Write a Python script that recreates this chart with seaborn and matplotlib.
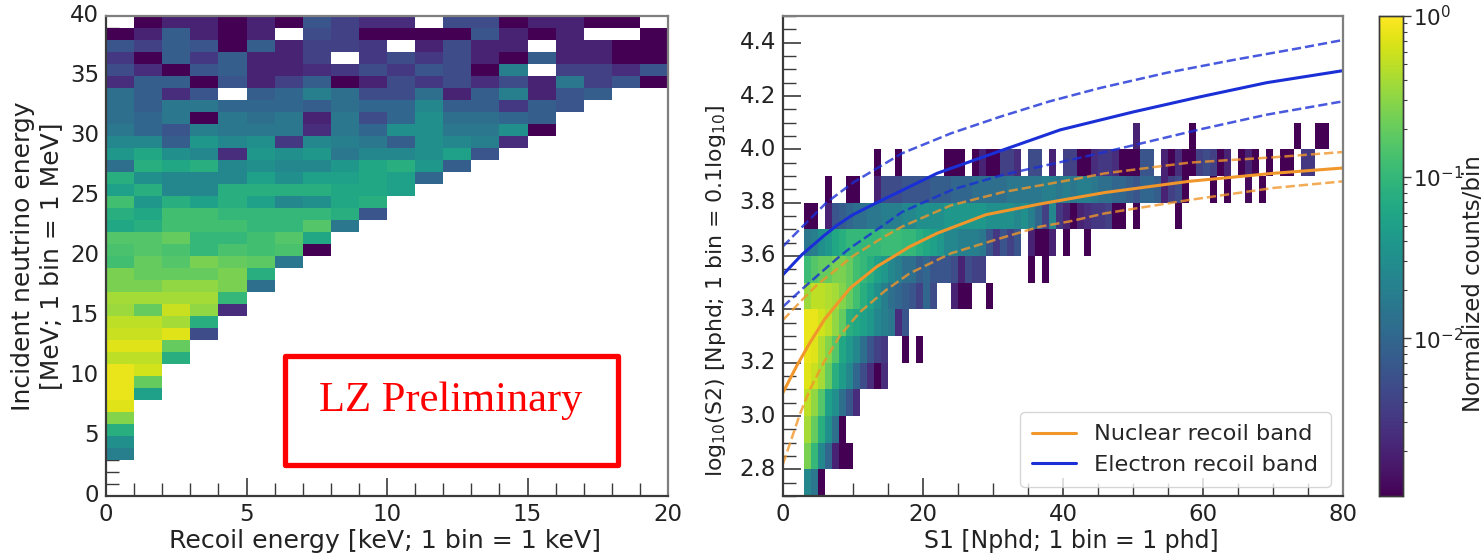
import numpy as np
import pandas as pd
import seaborn as sns
import matplotlib.pyplot as plt
from matplotlib.colors import LogNorm
from matplotlib.patches import Rectangle

NA = float('nan')
FIG_W, FIG_H = 1484, 555

# left panel: log10(normalized counts), top bin (39-40 MeV) first, each row starts at 0 keV
recoil_rows = [
    [NA, -3, -2.7, -2.7, -3, -2.7, -3, -2.2, -2.4, -2.6, -2.6, NA, -2.3, -2.3, -3, -2.7, -2.7, -3, -3, NA],
    [-3, -2.7, -2.1, -2.7, -3, -2.7, NA, -2.3, -2.4, -3, -3, -3, -3, -2.2, -2.7, -3, -2.7, NA, NA, -3],
    [-2.2, -2.4, -2.1, -2.2, -3, -2.1, -2.7, -2.4, -2.4, -2.5, NA, -2.7, -2.3, -2.7, -2.7, NA, -2.7, -2.7, -3, -3],
    [-2.5, -3, -2.1, -2.5, -2.1, -2.7, -2.7, -2.4, NA, -2.5, -2.3, -2.5, -2.3, -2.7, -3, -2.1, -2.7, -2.7, -3, -3],
    [-2.3, -2.6, -3, -2.2, -2.1, -2.7, -2.7, -2.6, -2.5, -2.3, -2.5, -2.2, -2.3, -3, -1.7, NA, -2.4, -2.4, -2.6, -2.2],
    [-2.6, -2.1, -2.1, -3, -2.2, -2.7, -2.4, -2.1, -3, -2.7, -2.3, -2.5, -2.3, -2.6, -2.3, -2.7, -1.8, -2.4, -2.2, -3],
    [-1.9, -2.1, -2.6, -2.2, NA, -2.1, -2.0, -1.7, -1.9, -2.3, -2.3, -1.9, -2.7, -2.1, -1.7, -2.7, -2.2, -2.1],
    [-1.9, -2.1, -1.8, -1.8, -2.0, -2.0, -2.0, -2.1, -1.9, -2.0, -2.0, -1.6, -2.1, -2.1, -2.5, -2.1, -2.2],
    [-1.9, -2.0, -1.8, -3, -1.8, -1.9, -1.8, -2.7, -1.8, -2.3, -2.0, -1.5, -1.9, -1.9, -2.0, -2.1],
    [-1.8, -2.0, -2.2, -1.7, -1.8, -1.8, -1.8, -2.6, -1.8, -2.0, -1.5, -1.5, -1.8, -1.8, -1.5, -3],
    [-1.6, -1.6, -2.1, -1.4, -1.6, -1.5, -2.5, -1.6, -1.7, -1.8, -2.1, -1.5, -1.6, -1.7, -2.6],
    [-1.4, -1.2, -1.5, -1.6, -2.6, -1.4, -1.5, -1.4, -1.8, -1.6, -1.6, -1.5, -1.3, -2.2],
    [-1.9, -1.1, -1.2, -1.1, -1.6, -1.5, -1.6, -1.6, -1.4, -1.2, -1.1, -1.4, -2.1],
    [-1.1, -1.5, -1.6, -1.6, -1.6, -1.3, -1.5, -1.3, -1.3, -1.2, -1.3, -2.0],
    [-1.3, -1.1, -1.6, -1.6, -1.1, -1.1, -1.1, -1.1, -1.2, -1.2, -1.3],
    [-0.9, -1.4, -1.1, -1.3, -1.1, -1.3, -1.6, -1.5, -1.2, -1.1],
    [-1.1, -1.2, -0.9, -0.9, -1.0, -1.0, -1.0, -1.0, -1.1, -2.2],
    [-1.2, -1.1, -0.9, -0.9, -0.9, -1.0, -1.0, -0.8, -1.8],
    [-0.8, -0.8, -0.7, -1.0, -1.0, -0.9, -0.8, -1.2],
    [-0.85, -0.8, -0.85, -1.0, -0.85, -0.9, -0.85, -3],
    [-0.9, -0.7, -0.8, -0.6, -0.7, -0.75, -1.8],
    [-0.6, -0.7, -0.7, -0.7, -0.6, -1.1],
    [-0.6, -0.6, -0.5, -0.5, -0.6, -1.9],
    [-0.4, -0.4, -0.4, -0.4, -1.0],
    [-0.45, -0.7, -0.25, -0.5, -2.6],
    [-0.3, -0.3, -0.4, -1.1],
    [-0.25, -0.25, -0.15, -2.3],
    [-0.15, -0.15, -0.7],
    [-0.3, -0.3, -1.1],
    [-0.1, -0.2],
    [-0.1, -0.7],
    [-0.1, -1.3],
    [-0.15],
    [-0.55],
    [-1.1],
    [-1.5],
    [-1.7],
    [],
    [],
    [],
]

# right panel: (first S1 bin, log10 counts), one list per log10(S2) bin, lowest bin first
s2_27 = [(3, [-1.6, -1.8, -3])]
s2_28 = [(3, [-0.6, -1.0, -1.6, -2.0, -2.7, -3, -3])]
s2_29 = [(3, [-0.4, -0.7, -1.1, -1.5, -1.9, -3])]
s2_30 = [(3, [-0.3, -0.5, -0.8, -1.3, -1.5, -1.9, -2.2, -2.6])]
s2_31 = [(3, [-0.15, -0.25, -0.4, -0.7, -1.1, -1.35, -1.6, -2.0, -2.3, -2.6, -3, -2.6])]
s2_32 = [(3, [-0.1, -0.15, -0.35, -0.55, -0.8, -1.2, -1.4, -1.6, -1.9, -2.2, -2.4, -2.5]), (17, [-3]), (19, [-3])]
s2_33 = [(3, [-0.1, -0.1, -0.2, -0.3, -0.5, -0.7, -1.1, -1.2, -1.3, -1.4, -1.6, -1.7, -1.8, -2.6, -2.2])]
s2_34 = [(3, [-0.45, -0.3, -0.3, -0.35, -0.4, -0.55, -0.7, -0.9, -1.1, -1.3, -1.5, -1.7, -1.9, -2.0, -2.1, -2.2, -2.4, -2.0, -2.3]),
         (24, [-2.7, -3, -3]), (29, [-3])]
s2_35 = [(3, [-0.95, -0.8, -0.7, -0.7, -0.6, -0.6, -0.7, -0.9, -1.0, -1.1, -1.3, -1.4, -1.6, -1.7, -1.9, -1.9, -2.1, -2.0, -2.2, -2.2, -2.2, -2.3, -2.7, -2.3, -2.4, -2.4]),
         (35, [-3]), (37, [-3])]
s2_36 = [(3, [-1.8, -1.7, -1.5, -1.4, -1.2, -1.1, -1.0, -1.0, -1.0, -1.0, -1.0, -0.95, -0.95, -0.95, -1.0, -1.0, -1.1, -1.2, -1.3, -1.4, -1.6, -1.6, -1.7, -1.7, -1.7, -1.8, -2.2, -2.5, -2.2, -2.4, -2.2]),
         (35, [-2.7, -3, -3, -2.7]), (40, [-3]), (43, [-3])]
s2_37 = [(3, [-3, -3]), (6, [-2.7, -2.2, -2.1, -2.0, -1.9, -1.9, -1.8, -1.8, -1.7, -1.7, -1.7, -1.6, -1.6, -1.5, -1.5, -1.5, -1.5, -1.4, -1.4, -1.4, -1.4, -1.4, -1.4, -1.5, -1.5, -1.5, -1.5, -1.6, -1.5, -1.7, -2.0, -2.4, -1.6, -2.5, -2.7, -3, -2.7, -2.6, -2.5, -2.5, -2.4, -3, -3]),
         (50, [-3]), (56, [-3])]
s2_38 = [(6, [-3]), (9, [-3, -3]), (13, [-2.7, -2.3, -2.3, -2.3, -2.2, -2.2, -2.2, -2.2, -2.1, -2.1, -2.1, -2.0, -2.0, -2.0, -1.9, -1.9, -1.9, -1.9, -1.9, -1.8, -1.8, -1.8, -1.8, -1.8, -1.7, -1.7, -1.8, -1.7, -1.8, -1.7, -1.7, -1.8, -1.9, -1.9, -2.0, -2.0, -2.1, -2.2, -2.0, -2.0, -2.1, -2.7, -2.4, -2.3, -3]),
         (61, [-3]), (63, [-3]), (66, [-2.9]), (68, [-3])]
s2_39 = [(13, [-3]), (16, [-3]), (23, [-3, -3, -3]), (27, [-3, -2.7, -3, -3, -2.4, -2.4, -2.6]), (35, [-2.3, -2.3]),
         (38, [-2.7]), (40, [-2.4, -2.4, -3, -3, -2.6, -2.5, -2.5, -2.6, -3, -3, -3, -2.2, -2.2]),
         (54, [-2.7, -3, -2.6, -3, -3, -2.4, -2.3, -2.4, -3, -2.7]), (65, [-3, -2.7, -3]), (69, [-3]), (71, [-3, -3]), (74, [-2.5, -2.5])]
s2_40 = [(50, [-2.7]), (58, [-3]), (73, [-3]), (76, [-3, -3])]
s2_bins = [s2_27, s2_28, s2_29, s2_30, s2_31, s2_32, s2_33, s2_34, s2_35, s2_36, s2_37, s2_38, s2_39, s2_40]

# band curves
nr_s1 = [0, 2, 3.85, 6, 9.6, 13.4, 18.1, 22, 29, 36.7, 41, 46, 58, 70, 80]
nr_mid = [3.088, 3.19, 3.275, 3.365, 3.48, 3.56, 3.635, 3.685, 3.755, 3.795, 3.815, 3.838, 3.88, 3.91, 3.93]
nr_up_s1 = [0, 2.9, 4.8, 10, 14.3, 17, 24, 31.5, 41, 46, 58, 70, 80]
nr_up = [3.36, 3.44, 3.49, 3.60, 3.67, 3.71, 3.79, 3.84, 3.885, 3.91, 3.95, 3.97, 3.99]
nr_lo_s1 = [0, 2.4, 3.85, 5.8, 8.1, 11, 14.6, 18.1, 24, 31.5, 36.7, 41, 46, 58, 70, 80]
nr_lo = [2.82, 3.006, 3.10, 3.20, 3.30, 3.39, 3.47, 3.535, 3.61, 3.67, 3.71, 3.73, 3.76, 3.81, 3.855, 3.88]
er_s1 = [0, 2.7, 5.8, 7.7, 10, 13.4, 22, 30.6, 39.6, 50, 59.6, 69.1, 80]
er_mid = [3.53, 3.605, 3.675, 3.715, 3.755, 3.80, 3.91, 3.99, 4.073, 4.14, 4.197, 4.25, 4.295]
er_up_s1 = [0, 2.4, 6.2, 10, 17, 24, 31, 38.1, 45.3, 54.8, 64.3, 73.9, 80]
er_up = [3.636, 3.70, 3.80, 3.875, 3.985, 4.06, 4.122, 4.18, 4.23, 4.287, 4.335, 4.38, 4.41]
er_lo_s1 = [0, 2.9, 7.7, 9.6, 14.6, 17, 24.3, 31.5, 41, 46, 59.6, 69.1, 80]
er_lo = [3.41, 3.48, 3.59, 3.63, 3.72, 3.765, 3.85, 3.905, 3.96, 3.99, 4.075, 4.13, 4.18]

ORANGE = '#f0962a'
BLUE = '#1a2fd6'
GREY = '#7f7f7f'
DARK = '#3a3a3a'
TEXT = '#222222'
LOG_NORM = LogNorm(vmin=10**-2.98, vmax=1)


def px_axes(fig, x0, x1, y0, y1):
    return fig.add_axes([x0 / FIG_W, 1 - y1 / FIG_H, (x1 - x0) / FIG_W, (y1 - y0) / FIG_H])


def recoil_table():
    rows = [r + [NA] * (20 - len(r)) for r in recoil_rows[::-1]]
    return pd.DataFrame(10.0 ** np.array(rows, dtype=float))


def s2_table():
    grid = np.full((18, 80), np.nan)
    for i, runs in enumerate(s2_bins):
        for start, vals in runs:
            grid[i, start:start + len(vals)] = 10.0 ** np.array(vals)
    return pd.DataFrame(grid)


def s2_row(v):
    # heatmap y axis counts bins, first bin starts at 2.7
    return (np.array(v) - 2.7) * 10


def style_axes(ax):
    for side, spine in ax.spines.items():
        spine.set_visible(True)
        spine.set_linewidth(1.6)
        spine.set_color(GREY if side in ('top', 'right') else DARK)
    ax.tick_params(which='major', direction='in', length=13, width=1.2, color=DARK, labelsize=16.5,
                   labelcolor=TEXT, left=True, bottom=True, pad=5)
    ax.tick_params(which='minor', direction='in', length=9.5, width=1.0, color=DARK, left=True, bottom=True)
    ax.tick_params(axis='y', labelrotation=0)
    ax.tick_params(axis='x', labelrotation=0)


sns.set_theme(style='white')
plt.rcParams['font.family'] = ['DejaVu Sans']
plt.rcParams['axes.unicode_minus'] = False

fig = plt.figure(figsize=(FIG_W / 100, FIG_H / 100), dpi=100)

# left panel
ax_left = px_axes(fig, 106, 668, 16, 496)
sns.heatmap(recoil_table(), cmap='viridis', norm=LOG_NORM, cbar=False, ax=ax_left)
ax_left.set_ylim(0, 40)
ax_left.set_xlim(0, 20)
ax_left.set_xticks(range(0, 21, 5), [str(v) for v in range(0, 21, 5)])
ax_left.set_xticks(range(0, 21), minor=True)
ax_left.set_yticks(range(0, 41, 5), [str(v) for v in range(0, 41, 5)])
ax_left.set_yticks(range(0, 41), minor=True)
style_axes(ax_left)
ax_left.set_xlabel('Recoil energy [keV; 1 bin = 1 keV]', fontsize=18.2, color=TEXT)
ax_left.xaxis.set_label_coords(0.497, -0.068)
ax_left.set_ylabel('Incident neutrino energy\n[MeV; 1 bin = 1 MeV]', fontsize=18, color=TEXT)
ax_left.yaxis.set_label_coords(-0.076, 0.5)

fig.add_artist(Rectangle((285 / FIG_W, 1 - 465 / FIG_H), 333 / FIG_W, 109 / FIG_H, transform=fig.transFigure,
                         fill=False, edgecolor='#ff0000', linewidth=3.8, joinstyle='round'))
fig.text(450.5 / FIG_W, 1 - 401 / FIG_H, 'LZ Preliminary', color='#ff0000', family='Liberation Serif',
         fontsize=30.6, ha='center', va='center')

# right panel
ax_right = px_axes(fig, 783, 1343, 16, 496)
cax = px_axes(fig, 1379, 1403, 16, 496)
sns.heatmap(s2_table(), cmap='viridis', norm=LOG_NORM, cbar=True, cbar_ax=cax, ax=ax_right)

sns.lineplot(x=nr_lo_s1, y=s2_row(nr_lo), color=ORANGE, alpha=0.8, lw=1.8, linestyle='--', ax=ax_right)
sns.lineplot(x=nr_up_s1, y=s2_row(nr_up), color=ORANGE, alpha=0.8, lw=1.8, linestyle='--', ax=ax_right)
sns.lineplot(x=er_lo_s1, y=s2_row(er_lo), color=BLUE, alpha=0.8, lw=1.8, linestyle='--', ax=ax_right)
sns.lineplot(x=er_up_s1, y=s2_row(er_up), color=BLUE, alpha=0.8, lw=1.8, linestyle='--', ax=ax_right)
sns.lineplot(x=nr_s1, y=s2_row(nr_mid), color=ORANGE, lw=2.2, label='Nuclear recoil band', ax=ax_right)
sns.lineplot(x=er_s1, y=s2_row(er_mid), color=BLUE, lw=2.2, label='Electron recoil band', ax=ax_right)

ax_right.set_xlim(0, 80)
ax_right.set_ylim(0, 18)
ax_right.set_xticks(range(0, 81, 20), [str(v) for v in range(0, 81, 20)])
ax_right.set_xticks(range(0, 81, 5), minor=True)
s2_major = [2.8, 3.0, 3.2, 3.4, 3.6, 3.8, 4.0, 4.2, 4.4]
ax_right.set_yticks(s2_row(s2_major), [f'{v:.1f}' for v in s2_major])
ax_right.set_yticks(s2_row(np.arange(2.7, 4.51, 0.05)), minor=True)
style_axes(ax_right)
ax_right.set_xlabel('S1 [Nphd; 1 bin = 1 phd]', fontsize=17, color=TEXT)
ax_right.xaxis.set_label_coords(0.514, -0.068)
ax_right.set_ylabel(r'log$_{10}$(S2) [Nphd; 1 bin = 0.1log$_{10}$]', fontsize=15.8, color=TEXT)
ax_right.yaxis.set_label_coords(-0.098, 0.427)
ax_right.legend(loc='lower right', fontsize=16.2, frameon=True, borderpad=0.55, labelspacing=0.45,
                handlelength=1.95, bbox_to_anchor=(0.978, 0.019), borderaxespad=0)

# colorbar
cax.tick_params(which='major', length=6, width=1, color=DARK, labelsize=15.5, labelcolor=TEXT, right=True, left=False, pad=1)
cax.tick_params(which='minor', length=3, width=0.8, color=DARK, right=True, left=False)
for spine in cax.spines.values():
    spine.set_visible(True)
    spine.set_color(DARK)
    spine.set_linewidth(1)
fig.text(1473 / FIG_W, 1 - 284 / FIG_H, 'Normalized counts/bin', fontsize=16.5, color=TEXT, rotation=90,
         ha='center', va='center')

fig.savefig('out.png', dpi=100)
